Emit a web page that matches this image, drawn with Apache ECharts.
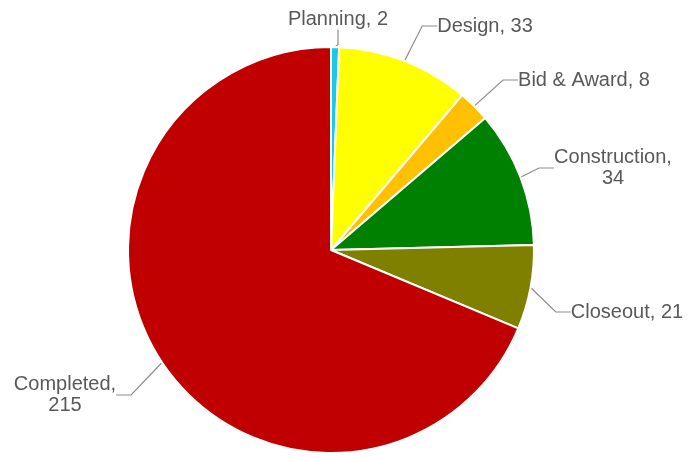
<!DOCTYPE html>
<html>
<head>
<meta charset="utf-8">
<script src="https://cdn.jsdelivr.net/npm/echarts@6/dist/echarts.min.js"></script>
<style>html,body{margin:0;padding:0;background:#fff;}#c{width:687px;height:457px;}</style>
</head>
<body>
<div id="c"></div>
<script>
var categories = ["Planning", "Design", "Bid & Award", "Construction", "Closeout", "Completed"];
var values = [2, 33, 8, 34, 21, 215];
var labelTexts = ["Planning, 2", "Design, 33", "Bid & Award, 8", "Construction,\n34", "Closeout, 21", "Completed,\n215"];

var colors = ["#1CC8E8", "#FFFF00", "#FFC000", "#008000", "#808000", "#C00000"];
var labelPos = [[338, 19], [485, 26], [584, 80], [613, 168], [627, 312], [65, 395]];

var chart = echarts.init(document.getElementById('c'));
chart.setOption({
  animation: false,
  series: [{
    type: 'pie',
    center: [331, 250],
    radius: [0, 203],
    startAngle: 90,
    clockwise: true,
    itemStyle: { borderColor: '#fff', borderWidth: 2 },
    label: {
      show: true,
      color: '#595959',
      fontFamily: 'Liberation Sans, Arial, sans-serif',
      fontSize: 20,
      lineHeight: 21,
      align: 'center',
      formatter: function (p) { return labelTexts[p.dataIndex]; }
    },
    labelLine: { show: true, length: 15, length2: 15, lineStyle: { color: '#8C8C8C', width: 1.2 } },
    labelLayout: function (p) {
      var pos = labelPos[p.dataIndex];
      return { x: pos[0], y: pos[1], align: 'center', verticalAlign: 'middle' };
    },
    data: categories.map(function (c, i) {
      return { name: c, value: values[i], itemStyle: { color: colors[i] } };
    })
  }]
});
</script>
</body>
</html>
